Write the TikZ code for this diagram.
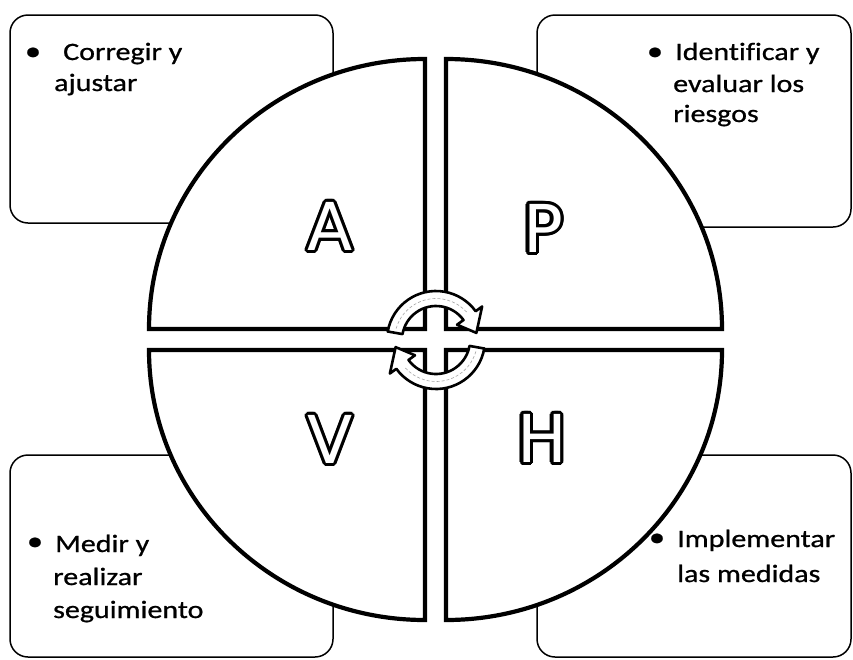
\documentclass[tikz,border=0pt]{standalone}
\usepackage{fontspec}
\usepackage{contour}
\newfontfamily\bodyfont[FakeStretch=1.2, FakeBold=0.8, Ligatures=NoCommon]{Carlito}
\newfontfamily\letterfont{DejaVu Sans}
\contourlength{3.2pt}
\tikzset{
  infobox/.style={draw=black, line width=1.5pt, rounded corners=18pt, inner sep=0pt, fill=white},
  quad/.style={draw=black, line width=4.2pt, fill=white, line join=miter},
  carrow/.style={draw=black, line width=2.6pt, fill=white, line join=round},
  cdash/.style={draw=gray!70, line width=0.6pt, dash pattern=on 3pt off 2pt},
  txt/.style={anchor=base west, inner sep=0pt, font=\bodyfont\fontsize{25}{30}\selectfont},
  bul/.style={anchor=base, inner sep=0pt, font=\bodyfont\fontsize{27}{30}\selectfont},
  letter/.style={anchor=center, inner sep=0pt, font=\letterfont\fontsize{66}{70}\selectfont}
}
\begin{document}
\begin{tikzpicture}[x=1pt, y=-1pt]
\useasboundingbox (0,0) rectangle (853,659);
% text boxes (behind the circle)
\node[infobox, minimum width=323pt, minimum height=208pt] (tlbox) at (171.5,119) {};
\node[infobox, minimum width=314pt, minimum height=212pt] (trbox) at (694,121) {};
\node[infobox, minimum width=323pt, minimum height=202pt] (blbox) at (171.5,556) {};
\node[infobox, minimum width=314pt, minimum height=202pt] (brbox) at (694,556) {};
% quadrants
\draw[quad] (425,329) -- (425,59) arc[start angle=-90, end angle=-180, x radius=276, y radius=270] -- cycle;
\draw[quad] (446,329) -- (446,59) arc[start angle=-90, end angle=0, x radius=276, y radius=270] -- cycle;
\draw[quad] (425,350) -- (425,620) arc[start angle=90, end angle=180, x radius=276, y radius=270] -- cycle;
\draw[quad] (446,350) -- (446,620) arc[start angle=90, end angle=0, x radius=276, y radius=270] -- cycle;
% circular arrows
\begin{scope}[shift={(436,340)}, yscale=-1]
  \filldraw[carrow] (170:49) arc[start angle=170, end angle=36, radius=49] -- (36:57) -- (10:41) -- (36:26) -- (36:34) arc[start angle=36, end angle=170, radius=34] -- cycle;
  \draw[cdash] (164:41.5) arc[start angle=164, end angle=42, radius=41.5];
  \filldraw[carrow] (-10:49) arc[start angle=-10, end angle=-144, radius=49] -- (-144:57) -- (-170:41) -- (-144:26) -- (-144:34) arc[start angle=-144, end angle=-10, radius=34] -- cycle;
  \draw[cdash] (-16:41.5) arc[start angle=-16, end angle=-138, radius=41.5];
\end{scope}
% letters
\node[letter] (la) at (330,228) {\textcolor{white}{\contour{black}{A}}};
\node[letter] (lp) at (543,230) {\textcolor{white}{\contour{black}{P}}};
\node[letter] (lv) at (330,441) {\textcolor{white}{\contour{black}{V}}};
\node[letter] (lh) at (542,440) {\textcolor{white}{\contour{black}{H}}};
% texts
\node[bul] (b1) at (33,60) {\textbullet};
\node[txt] (t1a) at (63,60) {Corregir y};
\node[txt] (t1b) at (54,91) {ajustar};
\node[bul] (b2) at (655,60) {\textbullet};
\node[txt] (t2a) at (675,60) {Identificar y};
\node[txt] (t2b) at (673,92) {evaluar los};
\node[txt] (t2c) at (673,122) {riesgos};
\node[bul] (b3) at (35,550) {\textbullet};
\node[txt] (t3a) at (55,552) {Medir y};
\node[txt] (t3b) at (53,585) {realizar};
\node[txt] (t3c) at (53,618) {seguimiento};
\node[bul] (b4) at (657,546) {\textbullet};
\node[txt] (t4a) at (677,547) {Implementar};
\node[txt] (t4b) at (677,582) {las medidas};
\end{tikzpicture}
\end{document}
